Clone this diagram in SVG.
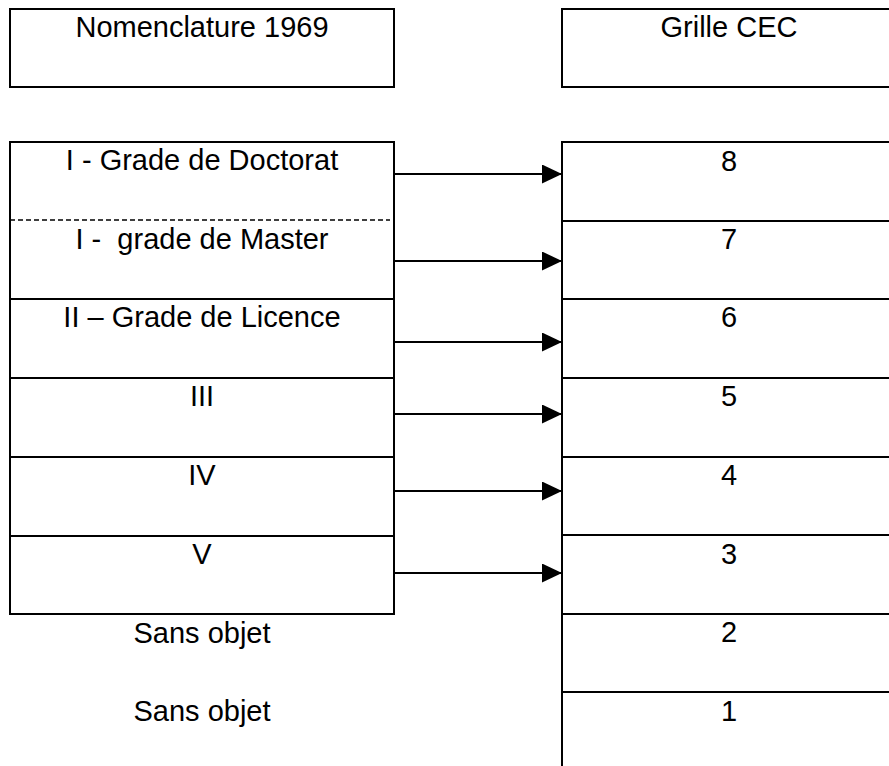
<svg xmlns="http://www.w3.org/2000/svg" width="889" height="766" viewBox="0 0 889 766">
  <defs>
    <style>
      .box { fill: #ffffff; stroke: #000000; stroke-width: 2; }
      .edge { fill: none; stroke: #000000; stroke-width: 2; }
      .dash { fill: none; stroke: #000000; stroke-width: 1.5; stroke-dasharray: 5 3; }
      .lbl { font-family: "Liberation Sans", Arial, sans-serif; font-size: 29px; fill: #000000; text-anchor: middle; white-space: pre; }
      .conn { fill: none; stroke: #000000; stroke-width: 2; }
    </style>
    <marker id="arrow" viewBox="0 0 20 19" refX="20" refY="9.5" markerWidth="20" markerHeight="19" markerUnits="userSpaceOnUse" orient="auto">
      <path d="M0,0 L20,9.5 L0,19 Z" fill="#000000"/>
    </marker>
  </defs>
  <rect width="889" height="766" fill="#ffffff"/>

  <!-- Headers -->
  <g id="header-nomenclature">
    <rect class="box" x="10" y="9" width="384" height="78"/>
    <text class="lbl" x="202" y="37">Nomenclature 1969</text>
  </g>
  <g id="header-cec">
    <rect class="box" x="562" y="9" width="334" height="78"/>
    <text class="lbl" x="729" y="37">Grille CEC</text>
  </g>

  <!-- Left column -->
  <g id="left-doctorat">
    <path class="edge" d="M10,220 L10,142 L394,142 L394,220"/>
    <text class="lbl" x="202" y="170">I - Grade de Doctorat</text>
  </g>
  <g id="left-master">
    <line class="dash" x1="10" y1="220" x2="390" y2="220"/>
    <path class="edge" d="M10,220 L10,299 L394,299 L394,220"/>
    <text class="lbl" x="202" y="249" xml:space="preserve">I -  grade de Master</text>
  </g>
  <g id="left-licence">
    <rect class="box" x="10" y="299" width="384" height="79"/>
    <text class="lbl" x="202" y="327">II – Grade de Licence</text>
  </g>
  <g id="left-III">
    <rect class="box" x="10" y="378" width="384" height="79"/>
    <text class="lbl" x="202" y="406">III</text>
  </g>
  <g id="left-IV">
    <rect class="box" x="10" y="457" width="384" height="79"/>
    <text class="lbl" x="202" y="485">IV</text>
  </g>
  <g id="left-V">
    <rect class="box" x="10" y="536" width="384" height="78"/>
    <text class="lbl" x="202" y="564">V</text>
  </g>
  <g id="left-sans-objet-1">
    <text class="lbl" x="202" y="643">Sans objet</text>
  </g>
  <g id="left-sans-objet-2">
    <text class="lbl" x="202" y="721">Sans objet</text>
  </g>

  <!-- Right column -->
  <g id="cec-8">
    <rect class="box" x="562" y="142" width="334" height="79"/>
    <text class="lbl" x="729" y="171">8</text>
  </g>
  <g id="cec-7">
    <rect class="box" x="562" y="221" width="334" height="78"/>
    <text class="lbl" x="729" y="249">7</text>
  </g>
  <g id="cec-6">
    <rect class="box" x="562" y="299" width="334" height="79"/>
    <text class="lbl" x="729" y="327">6</text>
  </g>
  <g id="cec-5">
    <rect class="box" x="562" y="378" width="334" height="79"/>
    <text class="lbl" x="729" y="406">5</text>
  </g>
  <g id="cec-4">
    <rect class="box" x="562" y="457" width="334" height="78"/>
    <text class="lbl" x="729" y="485">4</text>
  </g>
  <g id="cec-3">
    <rect class="box" x="562" y="535" width="334" height="79"/>
    <text class="lbl" x="729" y="564">3</text>
  </g>
  <g id="cec-2">
    <rect class="box" x="562" y="614" width="334" height="78"/>
    <text class="lbl" x="729" y="642">2</text>
  </g>
  <g id="cec-1">
    <rect class="box" x="562" y="692" width="334" height="100"/>
    <text class="lbl" x="729" y="721">1</text>
  </g>

  <!-- Connectors -->
  <g id="connectors">
    <line class="conn" x1="394" y1="174" x2="562" y2="174" marker-end="url(#arrow)"/>
    <line class="conn" x1="394" y1="261" x2="562" y2="261" marker-end="url(#arrow)"/>
    <line class="conn" x1="394" y1="342" x2="562" y2="342" marker-end="url(#arrow)"/>
    <line class="conn" x1="394" y1="414" x2="562" y2="414" marker-end="url(#arrow)"/>
    <line class="conn" x1="394" y1="491" x2="562" y2="491" marker-end="url(#arrow)"/>
    <line class="conn" x1="394" y1="573" x2="562" y2="573" marker-end="url(#arrow)"/>
  </g>
</svg>
